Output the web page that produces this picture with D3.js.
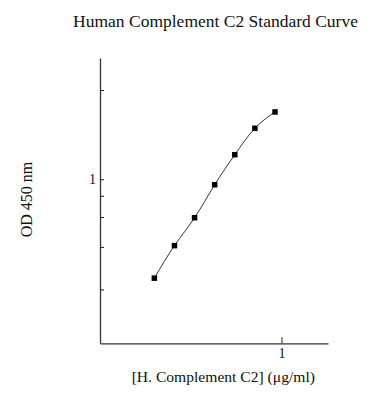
<!DOCTYPE html>
<html>
<head>
<meta charset="utf-8">
<script src="https://cdn.jsdelivr.net/npm/d3@7"></script>
<style>
  html, body { margin: 0; padding: 0; background: #fff; }
  text { font-family: "Liberation Serif", "Times New Roman", serif; fill: #111; }
</style>
</head>
<body>
<svg id="chart" width="371" height="400"></svg>
<script>
// ---- data ----
const concentrations = [0.0125, 0.025, 0.05, 0.1, 0.2, 0.4, 0.8];   // µg/ml
const odValues       = [0.262, 0.407, 0.594, 0.929, 1.395, 1.995, 2.489];
const xDomain = [0.00192, 4.97];
const yDomain = [0.1084, 5.17];
const xTickValues = [1];
const yTickValues = [3.35, 1, 0.8, 0.6, 0.4, 0.225];
const labeledTicks = [1];
const titleText = "Human Complement C2 Standard Curve";
const xLabel = "[H. Complement C2] (\u03bcg/ml)";
const yLabel = "OD 450 nm";

(function () {
const svg = d3.select("#chart");
const mLeft = 100, mRight = 328, mTop = 58, mBottom = 343.3;

const x = d3.scaleLog().domain(xDomain).range([mLeft, mRight]);
const y = d3.scaleLog().domain(yDomain).range([mBottom, mTop]);

const fmt = d => labeledTicks.includes(d) ? "1" : "";

// axes
const yAxis = svg.append("g")
  .attr("transform", `translate(${mLeft},0)`)
  .call(d3.axisLeft(y).tickValues(yTickValues).tickFormat(fmt).tickSizeInner(-4).tickSizeOuter(0).tickPadding(4));
const xAxis = svg.append("g")
  .attr("transform", `translate(0,${mBottom})`)
  .call(d3.axisBottom(x).tickValues(xTickValues).tickFormat(fmt).tickSizeInner(-6).tickSizeOuter(0).tickPadding(5));

[yAxis, xAxis].forEach(g => {
  g.select(".domain").attr("stroke", "#333").attr("stroke-width", 1.3);
  g.selectAll(".tick line").attr("stroke", "#222").attr("stroke-width", 1);
  g.selectAll(".tick text").attr("font-family", "Liberation Serif").attr("font-size", 14).attr("fill", "#111");
});

// curve
const pts = concentrations.map((c, i) => [c, odValues[i]]);
svg.append("path")
  .datum(pts)
  .attr("fill", "none")
  .attr("stroke", "#333")
  .attr("stroke-width", 1)
  .attr("d", d3.line().x(d => x(d[0])).y(d => y(d[1])).curve(d3.curveNatural));

// markers
const s = 5.5;
svg.selectAll("rect.pt")
  .data(pts)
  .join("rect")
  .attr("class", "pt")
  .attr("x", d => x(d[0]) - s / 2)
  .attr("y", d => y(d[1]) - s / 2)
  .attr("width", s)
  .attr("height", s)
  .attr("fill", "#000");

// texts
svg.append("text")
  .attr("x", 215.5).attr("y", 27)
  .attr("text-anchor", "middle")
  .attr("font-size", 17.5)
  .text(titleText);

svg.append("text")
  .attr("x", 223.3).attr("y", 382)
  .attr("text-anchor", "middle")
  .attr("font-size", 15.6)
  .text(xLabel);

svg.append("text")
  .attr("transform", "translate(31.5,199.5) rotate(-90)")
  .attr("text-anchor", "middle")
  .attr("font-size", 16)
  .text(yLabel);
})();
</script>
</body>
</html>
